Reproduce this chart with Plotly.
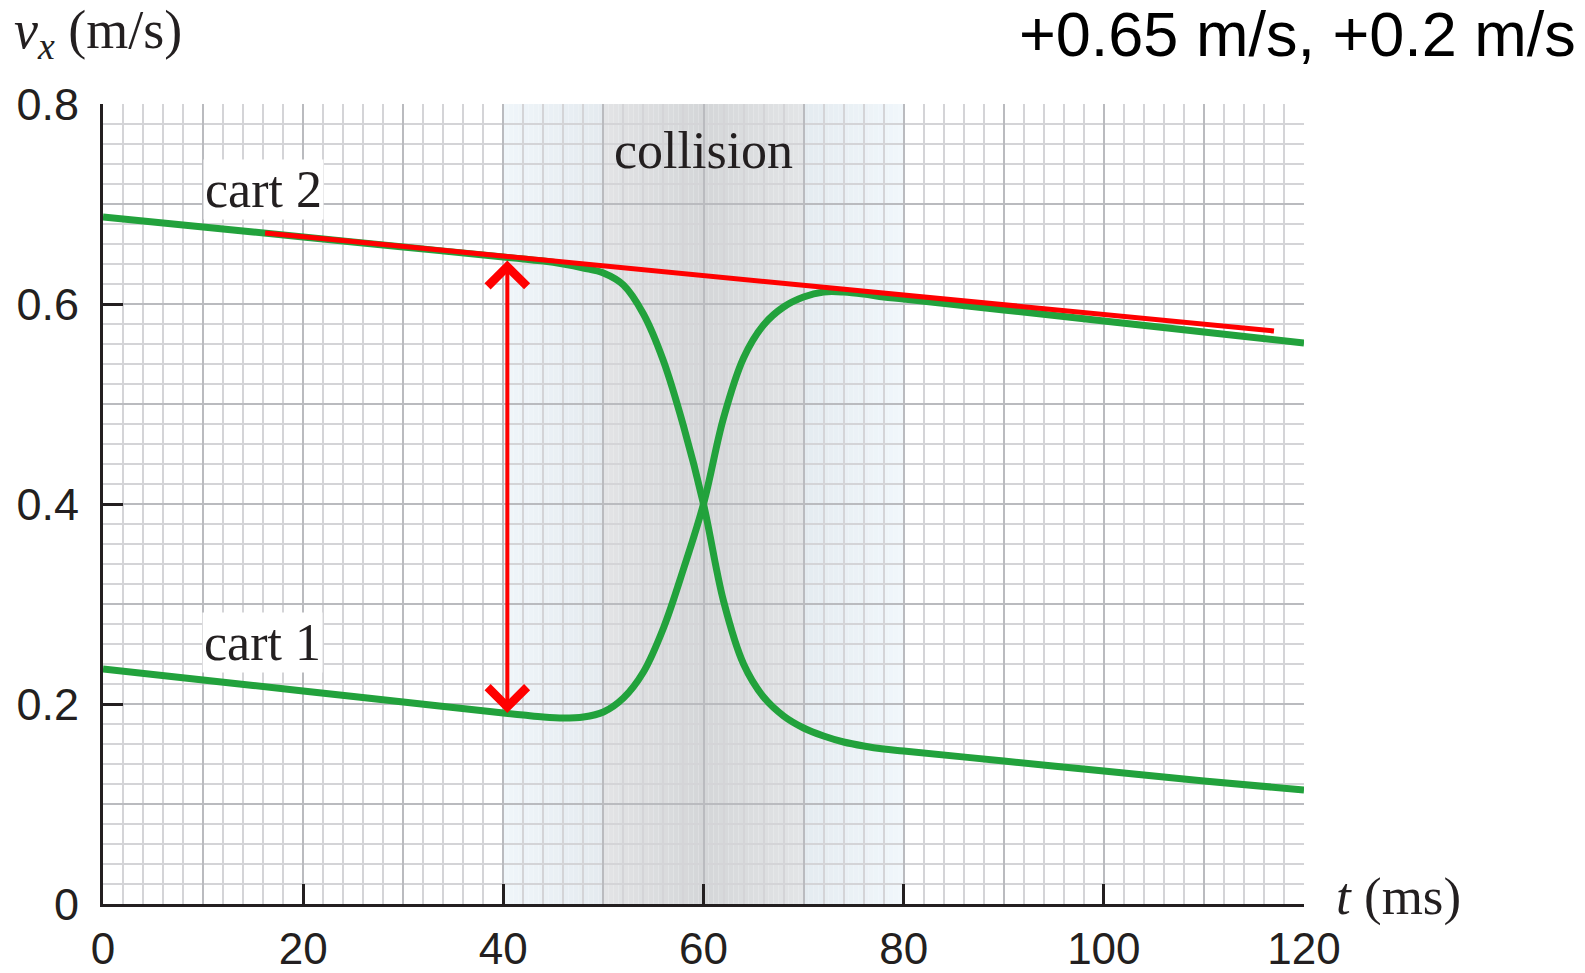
import plotly.graph_objects as go

# ---------------- data ----------------
t_cart1 = [0, 10, 20, 30, 40, 42, 44, 46, 48, 50, 52, 54, 56, 58, 60, 62, 64, 66, 68, 70, 72, 74, 76, 78, 80, 90, 100, 110, 120]
v_cart1 = [0.235, 0.224, 0.213, 0.202, 0.191, 0.189, 0.187, 0.186, 0.187, 0.192, 0.206, 0.232, 0.276, 0.335, 0.400,
           0.486, 0.546, 0.579, 0.597, 0.607, 0.612, 0.612, 0.610, 0.607, 0.605, 0.594, 0.583, 0.572, 0.561]

t_cart2 = [0, 10, 20, 30, 40, 42, 44, 46, 48, 50, 52, 54, 56, 58, 60, 62, 64, 66, 68, 70, 72, 74, 76, 78, 80, 90, 100, 110, 120]
v_cart2 = [0.687, 0.677, 0.667, 0.657, 0.647, 0.645, 0.643, 0.640, 0.636, 0.631, 0.619, 0.590, 0.543, 0.478, 0.400,
           0.303, 0.240, 0.207, 0.188, 0.176, 0.168, 0.162, 0.158, 0.155, 0.153, 0.143, 0.133, 0.123, 0.114]

t_tangent = [16.2, 117.0]
v_tangent = [0.671, 0.573]

arrow_t = 40.4
arrow_v = [0.645, 0.191]

collision_interval = [40, 80]
collision_peak = 60

x_ticks = [0, 20, 40, 60, 80, 100, 120]
y_ticks = [0, 0.2, 0.4, 0.6, 0.8]
x_tick_labels = ["0", "20", "40", "60", "80", "100", "120"]
y_tick_labels = ["0", "0.2", "0.4", "0.6", "0.8"]

# ---------------- figure ----------------
GREEN = "#22a23c"
RED = "#ff0000"
MINOR = "#d4d4d7"
MAJOR = "#babbbf"
INK = "#231f20"
SERIF = "Liberation Serif, DejaVu Serif, serif"
SANS = "Liberation Sans, Arial, sans-serif"

fig = go.Figure()

# gradient shading of the collision zone (thin stripes)
def hex2rgb(h):
    h = h.lstrip("#")
    return tuple(int(h[i:i + 2], 16) for i in (0, 2, 4))

stops = [(0.0, "#f0f6fa"), (0.25, "#e4eaef"), (0.2501, "#e3e4e6"), (0.5, "#d4d6d8"),
         (0.75, "#e3e5e7"), (0.7501, "#e4ebf0"), (1.0, "#f1f7fb")]

def color_at(f):
    for (f0, c0), (f1, c1) in zip(stops[:-1], stops[1:]):
        if f0 <= f <= f1:
            a = (f - f0) / (f1 - f0) if f1 > f0 else 0
            r0, r1 = hex2rgb(c0), hex2rgb(c1)
            return "rgb(%d,%d,%d)" % tuple(round(r0[i] + a * (r1[i] - r0[i])) for i in range(3))
    return stops[-1][1]

n_stripes = 80
c0, c1 = collision_interval
w = (c1 - c0) / n_stripes
for i in range(n_stripes):
    xa = c0 + i * w
    f = (i + 0.5) / n_stripes
    fig.add_shape(type="rect", xref="x", yref="paper", x0=xa, x1=xa + w * 1.02, y0=0, y1=1,
                  fillcolor=color_at(f), line=dict(width=0), layer="below")

line_style = dict(color=GREEN, width=7, shape="spline", smoothing=1.0)
fig.add_trace(go.Scatter(x=t_cart1, y=v_cart1, mode="lines", line=line_style, showlegend=False, hoverinfo="skip"))
fig.add_trace(go.Scatter(x=t_cart2, y=v_cart2, mode="lines", line=line_style, showlegend=False, hoverinfo="skip"))
fig.add_trace(go.Scatter(x=t_tangent, y=v_tangent, mode="lines", line=dict(color=RED, width=5),
                         showlegend=False, hoverinfo="skip"))
# invisible trace for the overlay axes carrying the tick marks
fig.add_trace(go.Scatter(x=[0, 120], y=[0, 0.8], xaxis="x2", yaxis="y2", mode="markers",
                         marker=dict(opacity=0), showlegend=False, hoverinfo="skip"))

# double-headed arrow
fig.add_annotation(x=arrow_t, y=arrow_v[1], ax=arrow_t, ay=arrow_v[0], xref="x", yref="y", axref="x", ayref="y",
                   text="", showarrow=True, arrowhead=4, startarrowhead=4, arrowside="end+start",
                   arrowsize=1.9, startarrowsize=1.9, arrowwidth=4, arrowcolor=RED)

# labels
fig.add_annotation(x=collision_peak, y=0.754, xref="x", yref="y", text="collision", showarrow=False,
                   font=dict(family=SERIF, size=52, color=INK))
fig.add_annotation(x=16.0, y=0.715, xref="x", yref="y", text="cart 2", showarrow=False, bgcolor="white",
                   font=dict(family=SERIF, size=52, color=INK))
fig.add_annotation(x=15.9, y=0.262, xref="x", yref="y", text="cart 1", showarrow=False, bgcolor="white",
                   font=dict(family=SERIF, size=52, color=INK))
fig.add_annotation(x=-0.0758, y=1.088, xref="paper", yref="paper", xanchor="left", yanchor="middle",
                   text="<i>v</i><sub><i>x</i></sub> (m/s)", showarrow=False,
                   font=dict(family=SERIF, size=54, color=INK))
fig.add_annotation(x=1.025, y=0.01, xref="paper", yref="paper", xanchor="left", yanchor="middle",
                   text="<i>t</i> (ms)", showarrow=False,
                   font=dict(family=SERIF, size=53, color=INK))
fig.add_annotation(x=1.228, y=1.087, xref="paper", yref="paper", xanchor="right", yanchor="middle",
                   text="+0.65 m/s, +0.2 m/s", showarrow=False,
                   font=dict(family=SANS, size=63, color="black"))

x_grid = list(range(0, 121, 10))
y_grid = [round(0.1 * i, 1) for i in range(9)]
fig.update_layout(
    width=1585, height=973, autosize=False,
    margin=dict(l=103, r=281, t=104, b=69),
    paper_bgcolor="white", plot_bgcolor="white",
    xaxis=dict(range=[0, 120], tickmode="array", tickvals=x_grid, automargin=False,
               ticktext=[x_tick_labels[x_ticks.index(v)] if v in x_ticks else "" for v in x_grid],
               ticks="", ticklabelstandoff=4, showgrid=True, gridcolor=MAJOR, gridwidth=2,
               minor=dict(dtick=2, tick0=0, showgrid=True, gridcolor=MINOR, gridwidth=1.5),
               showline=True, linecolor=INK, linewidth=3, zeroline=False,
               tickfont=dict(family=SANS, size=44, color=INK), fixedrange=True),
    yaxis=dict(range=[0, 0.8], tickmode="array", tickvals=y_grid, automargin=False,
               ticktext=[y_tick_labels[y_ticks.index(v)] if v in y_ticks else "" for v in y_grid],
               ticks="", ticklabelstandoff=12, showgrid=True, gridcolor=MAJOR, gridwidth=2,
               minor=dict(dtick=0.02, tick0=0, showgrid=True, gridcolor=MINOR, gridwidth=1.5),
               showline=True, linecolor=INK, linewidth=3, zeroline=False,
               tickfont=dict(family=SANS, size=45, color=INK), fixedrange=True),
    xaxis2=dict(range=[0, 120], overlaying="x", anchor="y2", side="bottom", tickmode="array", tickvals=x_ticks,
                ticks="inside", ticklen=20, tickwidth=3, tickcolor=INK, showticklabels=False, automargin=False,
                showgrid=False, zeroline=False, showline=False, fixedrange=True),
    yaxis2=dict(range=[0, 0.8], overlaying="y", anchor="x2", side="left", tickmode="array", tickvals=y_ticks,
                ticks="inside", ticklen=20, tickwidth=3, tickcolor=INK, showticklabels=False, automargin=False,
                showgrid=False, zeroline=False, showline=False, fixedrange=True),
)

fig.write_html("out.html", config=dict(displayModeBar=False),
               post_script="document.body.style.margin='0';document.body.style.overflow='hidden';")
